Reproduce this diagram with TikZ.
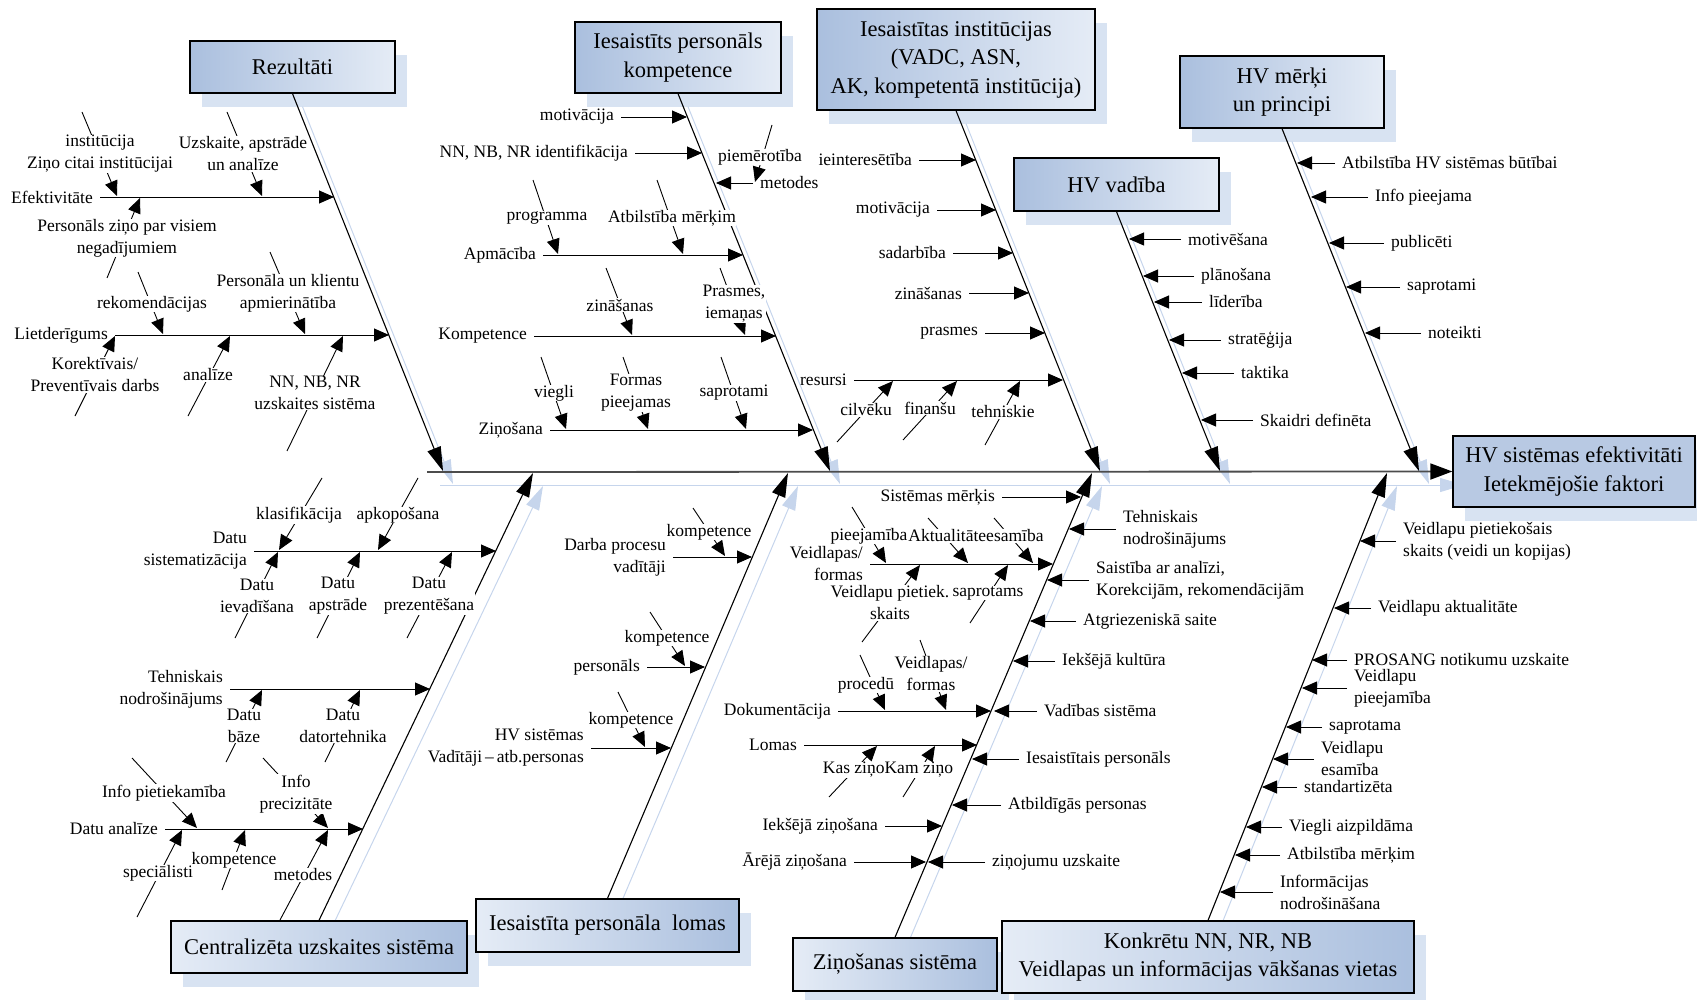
\documentclass[tikz,border=0pt]{standalone}
\usepackage{fontspec}
\setmainfont{Liberation Serif}
\usetikzlibrary{arrows.meta}
\pgfdeclarelayer{bg}
\pgfsetlayers{bg,main}
\definecolor{bdark}{RGB}{170,191,222}
\definecolor{blight}{RGB}{229,236,246}
\definecolor{bmain}{RGB}{184,201,227}
\definecolor{shbox}{RGB}{216,227,242}
\definecolor{shline}{RGB}{198,213,236}
\tikzset{
 lbl/.style={font=\fontsize{17.5}{22}\selectfont, inner sep=1pt, align=center},
 slbl/.style={lbl, fill=white, inner sep=0.5pt},
 ttl/.style={draw=black, line width=1.3pt, font=\fontsize{22.5}{28.5}\selectfont, align=center, inner sep=0pt},
 ar/.style={line width=0.9pt, -{Triangle[length=15pt,width=13pt]}},
 bone/.style={line width=1.1pt, -{Triangle[length=24pt,width=14pt]}},
 shb/.style={draw=shline, line width=1pt, -{Triangle[length=24pt,width=14pt]}},
 spine/.style={draw=black!70, line width=1.8pt, -{Triangle[length=22pt,width=16pt,color=black]}},
}
\newcommand\myAR[5]{\node[lbl,anchor=east,align=right] (#1) at (#2,#3) {#5};\draw[ar] ([xshift=6pt]#1.east) -- (#4,#3);}
\newcommand\myAL[5]{\node[lbl,anchor=west,align=left] (#1) at (#2,#3) {#5};\draw[ar] ([xshift=-6pt]#1.west) -- (#4,#3);}
\newcommand\mySB[8]{\draw[ar] (#2,#3) -- (#4,#5);\node[slbl] (#1) at (#6,#7) {#8};}
\begin{document}
\begin{tikzpicture}[x=1pt,y=-1pt]
\useasboundingbox (0,0) rectangle (1697,1000);
% title boxes
\node[ttl, left color=bdark, right color=blight, minimum width=205pt, minimum height=52pt] (rez) at (292.5,67) {Rezultāti};
\node[ttl, left color=bdark, right color=blight, minimum width=206pt, minimum height=71pt] (ipk) at (678,57.5) {Iesaistīts personāls\\kompetence};
\node[ttl, left color=bdark, right color=blight, minimum width=278pt, minimum height=101pt] (iin) at (956,59.5) {Iesaistītas institūcijas\\(VADC, ASN,\\AK, kompetentā institūcija)};
\node[ttl, left color=bdark, right color=blight, minimum width=205pt, minimum height=53pt] (hvv) at (1116.5,184.5) {HV vadība};
\node[ttl, left color=bdark, right color=blight, minimum width=204pt, minimum height=72pt] (hvm) at (1282,92) {HV mērķi\\un principi};
\node[ttl, fill=bmain, minimum width=242pt, minimum height=71pt] (main) at (1574,471.5) {HV sistēmas efektivitāti\\Ietekmējošie faktori};
\node[ttl, left color=blight, right color=bdark, minimum width=296pt, minimum height=52pt] (cus) at (319,947) {Centralizēta uzskaites sistēma};
\node[ttl, left color=blight, right color=bdark, minimum width=263pt, minimum height=53pt] (ipl) at (607.5,925.5) {Iesaistīta personāla\ \ lomas};
\node[ttl, left color=blight, right color=bdark, minimum width=204pt, minimum height=53pt] (zis) at (895,964.5) {Ziņošanas sistēma};
\node[ttl, left color=blight, right color=bdark, minimum width=412pt, minimum height=72pt] (kon) at (1208,957) {Konkrētu NN, NR, NB\\Veidlapas un informācijas vākšanas vietas};
% tips on spine
\coordinate (s0) at (427,472);
\coordinate (t1) at (443,471);
\coordinate (t2) at (830,471);
\coordinate (t3) at (1100,471);
\coordinate (t4) at (1220,471);
\coordinate (t5) at (1419,471);
\coordinate (u1) at (533,473);
\coordinate (u2) at (788,473);
\coordinate (u3) at (1092,473);
\coordinate (u4) at (1387,473);
% shadows
\begin{pgfonlayer}{bg}
\foreach \a/\b/\c/\d in {190/41/395/93, 575/22/781/93, 817/9/1095/110, 1014/158/1219/211, 1180/56/1384/128, 1453/436/1695/507, 171/921/467/973, 476/899/739/952, 793/938/997/991, 1002/921/1414/993}
  \fill[shbox] (\a+12,\b+14) rectangle (\c+12,\d+14);
\draw[shb] (440,485) -- (1464,485);
\foreach \n/\t in {rez/t1, ipk/t2, iin/t3, hvv/t4, hvm/t5}
  \draw[shb] ([shift={(10,13)}]\n.south) -- ([shift={(10,13)}]\t);
\foreach \n/\t in {cus/u1, ipl/u2, zis/u3, kon/u4}
  \draw[shb] ([shift={(10,13)}]\n.north) -- ([shift={(10,13)}]\t);
\end{pgfonlayer}
% spine and bones
\draw[spine] (s0) -- (main.west);
\draw[bone] (rez.south) -- (t1);
\draw[bone] (ipk.south) -- (t2);
\draw[bone] (iin.south) -- (t3);
\draw[bone] (hvv.south) -- (t4);
\draw[bone] (hvm.south) -- (t5);
\draw[bone] (cus.north) -- (u1);
\draw[bone] (ipl.north) -- (u2);
\draw[bone] (zis.north) -- (u3);
\draw[bone] (kon.north) -- (u4);
% ---- Rezultati
\myAR{ef}{94}{197}{334}{Efektivitāte}
\mySB{ef1}{82}{112}{117}{196}{100}{154}{institūcija\\Ziņo citai institūcijai}
\mySB{ef2}{227}{112}{262}{196}{243}{154}{Uzskaite, apstrāde\\un analīze}
\mySB{ef3}{107}{278}{140}{198}{127}{238}{Personāls ziņo par visiem\\negadījumiem}
\myAR{li}{109}{335}{389}{Lietderīgums}
\mySB{li1}{138}{272}{163}{334}{152}{304}{rekomendācijas}
\mySB{li2}{270}{252}{305}{334}{288}{293}{Personāla un klientu\\apmierinātība}
\mySB{li3}{75}{416}{115}{336}{95}{375}{Korektīvais/\\Preventīvais darbs}
\mySB{li4}{188}{416}{230}{336}{208}{375}{analīze}
\mySB{li5}{287}{451}{343}{336}{315}{393}{NN, NB, NR\\uzskaites sistēma}
% ---- Iesaistits personals kompetence
\myAR{mo}{615}{117}{687}{motivācija}
\myAR{id}{629}{153}{702}{NN, NB, NR identifikācija}
\myAL{me}{759}{183}{716}{metodes}
\mySB{pm}{772}{125}{755}{182}{760}{157}{piemērotība}
\myAR{apm}{537}{255}{743}{Apmācība}
\mySB{ap1}{533}{180}{558}{254}{547}{218}{programma}
\mySB{ap2}{657}{180}{683}{254}{672}{218}{Atbilstība mērķim}
\myAR{kom}{528}{336}{776}{Kompetence}
\mySB{ko1}{606}{268}{632}{335}{620}{305}{zināšanas}
\mySB{ko2}{720}{268}{745}{335}{734}{304}{Prasmes,\\iemaņas}
\myAR{zin}{544}{430}{813}{Ziņošana}
\mySB{zi1}{541}{357}{566}{429}{554}{393}{viegli}
\mySB{zi2}{623}{357}{648}{429}{636}{393}{Formas\\pieejamas}
\mySB{zi3}{721}{357}{746}{429}{734}{393}{saprotami}
% ---- Iesaistitas institucijas
\myAR{iei}{913}{160}{976}{ieinteresētība}
\myAR{mo2}{931}{210}{996}{motivācija}
\myAR{sad}{947}{253}{1013}{sadarbība}
\myAR{zn2}{963}{293}{1029}{zināšanas}
\myAR{pra}{979}{333}{1045}{prasmes}
\myAR{res}{848}{380}{1063}{resursi}
\mySB{re1}{837}{442}{893}{381}{866}{410}{cilvēku}
\mySB{re2}{903}{440}{957}{381}{930}{408}{finanšu}
\mySB{re3}{985}{445}{1020}{381}{1003}{412}{tehniskie}
% ---- HV vadiba
\myAL{mv}{1187}{239}{1129}{motivēšana}
\myAL{pl}{1200}{276}{1143}{plānošana}
\myAL{ld}{1208}{302}{1154}{līderība}
\myAL{st}{1227}{340}{1169}{stratēģija}
\myAL{ta}{1240}{373}{1182}{taktika}
\myAL{sk}{1259}{420}{1201}{Skaidri definēta}
% ---- HV merki
\myAL{ab}{1341}{163}{1297}{Atbilstība HV sistēmas būtībai}
\myAL{ip}{1374}{197}{1311}{Info pieejama}
\myAL{pu}{1390}{243}{1329}{publicēti}
\myAL{sa}{1406}{287}{1346}{saprotami}
\myAL{no}{1427}{333}{1365}{noteikti}
% ---- Centralizeta uzskaites sistema
\myAR{dsi}{248}{551}{496}{Datu\\sistematizācija}
\mySB{ds1}{322}{478}{279}{550}{299}{515}{klasifikācija}
\mySB{ds2}{418}{478}{378}{550}{398}{515}{apkopošana}
\mySB{ds3}{235}{638}{278}{552}{257}{596}{Datu\\ievadīšana}
\mySB{ds4}{317}{638}{360}{552}{338}{596}{Datu\\apstrāde}
\mySB{ds5}{407}{638}{452}{552}{429}{596}{Datu\\prezentēšana}
\myAR{tn}{224}{689}{430}{Tehniskais\\nodrošinājums}
\mySB{tn1}{226}{762}{262}{690}{244}{726}{Datu\\bāze}
\mySB{tn2}{325}{762}{360}{690}{343}{726}{Datu\\datortehnika}
\myAR{dan}{159}{829}{363}{Datu analīze}
\mySB{da1}{132}{758}{197}{828}{164}{793}{Info pietiekamība}
\mySB{da2}{263}{758}{328}{828}{296}{794}{Info\\precizitāte}
\mySB{da3}{137}{917}{182}{830}{158}{873}{speciālisti}
\mySB{da4}{222}{890}{245}{830}{234}{860}{kompetence}
\mySB{da5}{280}{920}{328}{830}{303}{875}{metodes}
% ---- Iesaistita personala lomas
\myAR{dpv}{667}{557}{752}{Darba procesu\\vadītāji}
\mySB{dp1}{693}{508}{725}{556}{709}{532}{kompetence}
\myAR{per}{641}{667}{705}{personāls}
\mySB{pe1}{650}{612}{685}{666}{667}{638}{kompetence}
\myAR{hvs}{585}{748}{671}{HV sistēmas\\Vadītāji\,–\,atb.personas}
\mySB{hv1}{618}{692}{645}{747}{631}{720}{kompetence}
% ---- Zinosanas sistema
\myAR{smk}{996}{497}{1081}{Sistēmas mērķis}
\myAL{tn3}{1122}{529}{1069}{Tehniskais\\nodrošinājums}
\myAR{vf}{864}{564}{1053}{Veidlapas/\\formas}
\mySB{vf1}{852}{507}{886}{563}{869}{536}{pieejamība}
\draw[ar] (928,518) -- (968,563);
\mySB{vf3}{994}{518}{1033}{563}{976}{536}{Aktualitāteesamība}
\mySB{vf4}{862}{642}{920}{565}{890}{603}{Veidlapu pietiek.\\skaits}
\mySB{vf5}{970}{623}{1008}{565}{988}{593}{saprotams}
\myAL{sai}{1095}{580}{1047}{Saistība ar analīzi,\\Korekcijām, rekomendācijām}
\myAL{atg}{1082}{621}{1030}{Atgriezeniskā saite}
\myAL{ikk}{1061}{661}{1013}{Iekšējā kultūra}
\myAR{dok}{832}{711}{991}{Dokumentācija}
\mySB{do1}{860}{655}{885}{710}{866}{685}{procedū}
\mySB{do2}{920}{640}{946}{710}{931}{674}{Veidlapas/\\formas}
\myAL{vs}{1043}{711}{994}{Vadības sistēma}
\myAR{lom}{798}{745}{977}{Lomas}
\draw[ar] (829,797) -- (877,746);
\mySB{kz}{903}{797}{935}{746}{888}{770}{Kas ziņoKam ziņo}
\myAL{isp}{1025}{759}{972}{Iesaistītais personāls}
\myAL{abp}{1007}{805}{952}{Atbildīgās personas}
\myAR{izi}{879}{826}{942}{Iekšējā ziņošana}
\myAR{azi}{848}{862}{926}{Ārējā ziņošana}
\myAL{zu}{991}{862}{928}{ziņojumu uzskaite}
% ---- Konkretu NN
\myAL{vps}{1402}{541}{1360}{Veidlapu pietiekošais\\skaits (veidi un kopijas)}
\myAL{vak}{1377}{608}{1334}{Veidlapu aktualitāte}
\myAL{pro}{1353}{660}{1312}{PROSANG notikumu uzskaite}
\myAL{vpi}{1353}{688}{1302}{Veidlapu\\pieejamība}
\myAL{spr}{1328}{727}{1286}{saprotama}
\myAL{ves}{1320}{759}{1273}{Veidlapu\\esamība}
\myAL{std}{1303}{787}{1262}{standartizēta}
\myAL{via}{1288}{827}{1246}{Viegli aizpildāma}
\myAL{abm}{1286}{855}{1235}{Atbilstība mērķim}
\myAL{inf}{1279}{892}{1220}{Informācijas\\nodrošināšana}
\end{tikzpicture}
\end{document}
